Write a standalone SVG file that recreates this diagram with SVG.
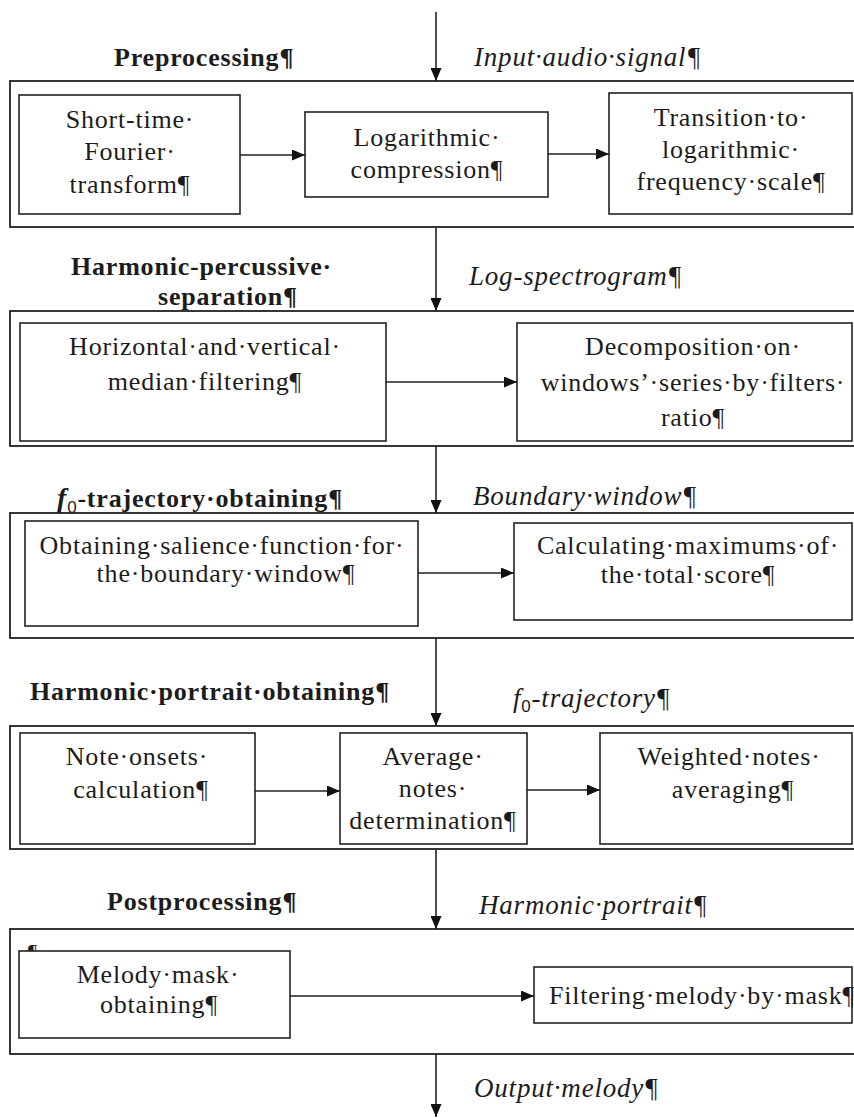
<svg xmlns="http://www.w3.org/2000/svg" width="854" height="1118" viewBox="0 0 854 1118">
<style>
text{font-family:"Liberation Serif","Times New Roman",serif;fill:#1c1c1c;letter-spacing:0.8px}
.t{font-size:26px;text-anchor:middle}
.h{font-size:26px;font-weight:bold}
.l{font-size:27px;font-style:italic}
.box{fill:#fff;stroke:#222;stroke-width:1.6}
.outer{fill:none;stroke:#222;stroke-width:1.8}
.c{stroke:#222;stroke-width:1.6;fill:none;marker-end:url(#ah)}
</style>
<defs>
<marker id="ah" markerUnits="userSpaceOnUse" markerWidth="13" markerHeight="11" refX="13" refY="5.5" orient="auto">
<path d="M0,0 L13,5.5 L0,11 z" fill="#111"/>
</marker>
</defs>
<rect width="854" height="1118" fill="#fff"/>

<g id="labels">
<text class="h" x="114" y="66">Preprocessing¶</text>
<text class="l" x="474" y="66">Input·audio·signal¶</text>
<text class="h" x="71" y="275">Harmonic-percussive·</text>
<text class="h" x="158" y="305">separation¶</text>
<text class="l" x="469" y="285">Log-spectrogram¶</text>
<text class="h" x="57" y="507"><tspan font-style="italic" font-size="28">f</tspan><tspan font-weight="normal" font-family="Liberation Sans" font-size="17" dy="6">0</tspan><tspan dy="-6">-trajectory·obtaining¶</tspan></text>
<text class="l" x="473" y="505">Boundary·window¶</text>
<text class="h" x="30" y="700">Harmonic·portrait·obtaining¶</text>
<text class="l" x="513" y="707">f<tspan font-style="normal" font-family="Liberation Sans" font-size="17" dy="5">0</tspan><tspan dy="-5">-trajectory¶</tspan></text>
<text class="h" x="107" y="910">Postprocessing¶</text>
<text class="l" x="479" y="914">Harmonic·portrait¶</text>
<text class="l" x="474" y="1097">Output·melody¶</text>
</g>

<g id="stage-preprocessing">
<rect class="outer" x="10" y="81" width="860" height="146"/>
</g>
<g id="stage-hps">
<rect class="outer" x="10" y="311" width="860" height="135"/>
</g>
<g id="stage-f0">
<rect class="outer" x="10" y="513" width="860" height="125"/>
</g>
<g id="stage-portrait">
<rect class="outer" x="10" y="726" width="860" height="123"/>
</g>
<g id="stage-post">
<rect class="outer" x="10" y="929" width="860" height="125"/>
<text x="28" y="959" style="font-size:20px">¶</text>
</g>

<g id="stft">
<rect class="box" x="19" y="95" width="221" height="119"/>
<text class="t" x="130" y="128">Short-time·</text>
<text class="t" x="130" y="160">Fourier·</text>
<text class="t" x="130" y="193">transform¶</text>
</g>
<g id="logcomp">
<rect class="box" x="305" y="112" width="243" height="85"/>
<text class="t" x="427" y="146">Logarithmic·</text>
<text class="t" x="427" y="178">compression¶</text>
</g>
<g id="logfreq">
<rect class="box" x="609" y="93" width="243" height="121"/>
<text class="t" x="731" y="126">Transition·to·</text>
<text class="t" x="731" y="158">logarithmic·</text>
<text class="t" x="731" y="190">frequency·scale¶</text>
</g>

<g id="median">
<rect class="box" x="20" y="323" width="366" height="118"/>
<text class="t" x="205" y="355">Horizontal·and·vertical·</text>
<text class="t" x="205" y="390">median·filtering¶</text>
</g>
<g id="decomp">
<rect class="box" x="517" y="323" width="335" height="118"/>
<text class="t" x="693" y="355">Decomposition·on·</text>
<text class="t" x="693" y="391">windows’·series·by·filters·</text>
<text class="t" x="693" y="426">ratio¶</text>
</g>

<g id="salience">
<rect class="box" x="25" y="521" width="393" height="105"/>
<text class="t" x="222" y="554">Obtaining·salience·function·for·</text>
<text class="t" x="226" y="582">the·boundary·window¶</text>
</g>
<g id="maxima">
<rect class="box" x="514" y="523" width="338" height="97"/>
<text class="t" x="688" y="554">Calculating·maximums·of·</text>
<text class="t" x="688" y="583">the·total·score¶</text>
</g>

<g id="onsets">
<rect class="box" x="20" y="733" width="235" height="111"/>
<text class="t" x="137" y="765">Note·onsets·</text>
<text class="t" x="141" y="798">calculation¶</text>
</g>
<g id="avgnotes">
<rect class="box" x="340" y="733" width="187" height="111"/>
<text class="t" x="433" y="765">Average·</text>
<text class="t" x="433" y="797">notes·</text>
<text class="t" x="433" y="829">determination¶</text>
</g>
<g id="weighted">
<rect class="box" x="600" y="733" width="252" height="111"/>
<text class="t" x="729" y="765">Weighted·notes·</text>
<text class="t" x="733" y="798">averaging¶</text>
</g>

<g id="mask">
<rect class="box" x="19" y="951" width="271" height="87"/>
<text class="t" x="158" y="983">Melody·mask·</text>
<text class="t" x="159" y="1013">obtaining¶</text>
</g>
<g id="filtering">
<rect class="box" x="534" y="967" width="318" height="56"/>
<text class="t" x="702" y="1004">Filtering·melody·by·mask¶</text>
</g>

<g id="connectors">
<line class="c" x1="436" y1="12" x2="436" y2="81"/>
<line class="c" x1="240" y1="155" x2="305" y2="155"/>
<line class="c" x1="548" y1="154" x2="609" y2="154"/>
<line class="c" x1="436" y1="227" x2="436" y2="311"/>
<line class="c" x1="386" y1="382" x2="517" y2="382"/>
<line class="c" x1="436" y1="446" x2="436" y2="513"/>
<line class="c" x1="418" y1="573" x2="514" y2="573"/>
<line class="c" x1="436" y1="638" x2="436" y2="726"/>
<line class="c" x1="255" y1="791" x2="340" y2="791"/>
<line class="c" x1="527" y1="790" x2="600" y2="790"/>
<line class="c" x1="436" y1="849" x2="436" y2="929"/>
<line class="c" x1="290" y1="996" x2="534" y2="996"/>
<line class="c" x1="436" y1="1054" x2="436" y2="1117"/>
</g>
</svg>
